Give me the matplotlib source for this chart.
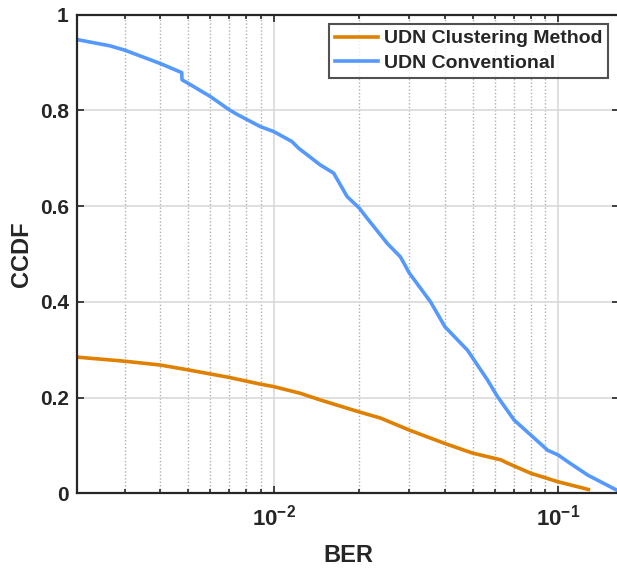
import matplotlib
matplotlib.use("Agg")
import matplotlib.pyplot as plt
from matplotlib.ticker import LogLocator, NullFormatter, FixedLocator

plt.rcParams['font.family'] = ['Liberation Sans', 'DejaVu Sans']
plt.rcParams['font.weight'] = 'bold'
plt.rcParams['mathtext.fontset'] = 'custom'
plt.rcParams['mathtext.bf'] = 'Liberation Sans:bold'
plt.rcParams['mathtext.rm'] = 'Liberation Sans:bold'
plt.rcParams['mathtext.default'] = 'bf'

conv_ber = [0.002, 0.00266, 0.003, 0.004, 0.00476, 0.00477, 0.005, 0.006, 0.007, 0.00743,
            0.009, 0.010, 0.0116, 0.01225, 0.0146, 0.01626, 0.01813, 0.0200, 0.0213,
            0.0251, 0.0279, 0.030, 0.0356, 0.040, 0.048, 0.0564, 0.0612, 0.070, 0.080,
            0.0918, 0.100, 0.108, 0.127, 0.141, 0.160]
conv_ccdf = [0.949, 0.935, 0.926, 0.898, 0.879, 0.864, 0.857, 0.829, 0.801, 0.792,
             0.766, 0.756, 0.735, 0.721, 0.686, 0.669, 0.620, 0.596, 0.575,
             0.522, 0.494, 0.460, 0.400, 0.348, 0.299, 0.237, 0.202, 0.153, 0.122,
             0.090, 0.080, 0.066, 0.038, 0.024, 0.007]

clus_ber = [0.002, 0.003, 0.004, 0.005, 0.007, 0.009, 0.010, 0.01241, 0.0146, 0.0200,
            0.0238, 0.030, 0.040, 0.050, 0.0628, 0.0664, 0.080, 0.100, 0.1276]
clus_ccdf = [0.285, 0.276, 0.268, 0.258, 0.242, 0.228, 0.223, 0.209, 0.195, 0.170,
             0.157, 0.132, 0.104, 0.084, 0.070, 0.063, 0.042, 0.024, 0.008]

yticks = [0, 0.2, 0.4, 0.6, 0.8, 1]
ytick_labels = ['0', '0.2', '0.4', '0.6', '0.8', '1']

txt = '#262626'
fig = plt.figure(figsize=(6.17, 5.68), dpi=100)
ax = fig.add_axes([77/617, 1 - 493.3/568, (619 - 77)/617, (493.3 - 14.7)/568])

ax.plot(clus_ber, clus_ccdf, color='#E08000', lw=2.6, label='UDN Clustering Method')
ax.plot(conv_ber, conv_ccdf, color='#5599FF', lw=2.6, label='UDN Conventional')

ax.set_xscale('log')
ax.set_xlim(0.00204, 0.1635)
ax.set_ylim(0, 1)
ax.set_yticks(yticks)
ax.set_yticklabels(ytick_labels)
ax.xaxis.set_major_locator(FixedLocator([0.01, 0.1]))
ax.set_xticklabels(['$10^{-2}$', '$10^{-1}$'])
ax.xaxis.set_minor_locator(LogLocator(base=10, subs=range(2, 10), numticks=20))
ax.xaxis.set_minor_formatter(NullFormatter())

ax.grid(True, which='major', color='#d9d9d9', lw=1.2)
ax.grid(True, which='minor', axis='x', color='#b0b0b0', lw=1.0, ls=(0, (1.0, 1.5)))
ax.set_axisbelow(True)

ax.tick_params(axis='both', which='both', direction='in', top=True, right=True,
               colors=txt, labelsize=15, width=1.2)
ax.tick_params(axis='x', which='major', labelsize=16)
ax.tick_params(which='major', length=5)
ax.tick_params(which='minor', length=3)
ax.tick_params(axis='x', pad=8)
ax.tick_params(axis='y', pad=6)
for s in ax.spines.values():
    s.set_color(txt)
    s.set_linewidth(1.6)

ax.set_xlabel('BER', fontsize=17, fontweight='bold', color=txt, labelpad=10)
ax.set_ylabel('CCDF', fontsize=17, fontweight='bold', color=txt, labelpad=5)

leg = ax.legend(loc='upper right', bbox_to_anchor=((608 - 77)/542, 1 - (24 - 14.7)/478.6),
                fontsize=14, frameon=True, fancybox=False, handlelength=2.2,
                borderpad=0.3, labelspacing=0.35, handletextpad=0.3, borderaxespad=0)
leg.get_frame().set_edgecolor(txt)
leg.get_frame().set_linewidth(1.5)
for t in leg.get_texts():
    t.set_color(txt)
    t.set_fontweight('bold')

fig.savefig('out.png', dpi=100)
